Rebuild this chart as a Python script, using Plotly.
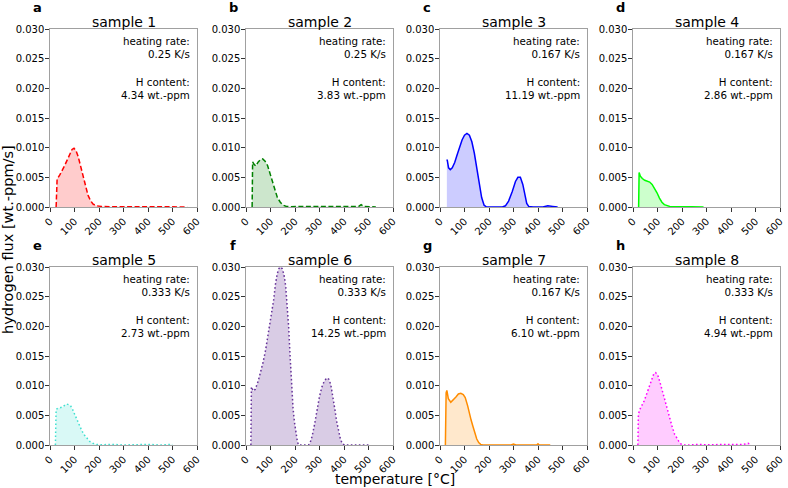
import plotly.graph_objects as go

W, H = 788, 488

# ---------------- data ----------------
titles = ["sample 1", "sample 2", "sample 3", "sample 4",
          "sample 5", "sample 6", "sample 7", "sample 8"]
letters = ["a", "b", "c", "d", "e", "f", "g", "h"]
heating_rates = ["0.25 K/s", "0.25 K/s", "0.167 K/s", "0.167 K/s",
                 "0.333 K/s", "0.333 K/s", "0.167 K/s", "0.333 K/s"]
h_contents = ["4.34 wt.-ppm", "3.83 wt.-ppm", "11.19 wt.-ppm", "2.86 wt.-ppm",
              "2.73 wt.-ppm", "14.25 wt.-ppm", "6.10 wt.-ppm", "4.94 wt.-ppm"]

T1 = [25, 29, 40, 50, 60, 70, 80, 90, 98, 106, 115, 125, 135, 145, 155, 165, 175, 190, 210, 250, 300, 350, 400, 450, 500, 560]
F1 = [0, 0.0047, 0.0054, 0.0061, 0.0070, 0.0079, 0.0089, 0.0097, 0.0099, 0.0095, 0.0085, 0.0068, 0.0050, 0.0033, 0.0020, 0.0011, 0.0005, 0.0002, 0.0001, 0.00005, 0.0001, 0.00004, 0.00006, 0.00003, 0.00008, 0.0]

T2 = [25, 27, 33, 40, 50, 60, 68, 78, 88, 98, 108, 118, 128, 140, 152, 165, 180, 220, 300, 400, 460, 470, 480, 530]
F2 = [0, 0.0076, 0.0072, 0.0069, 0.0076, 0.0080, 0.0081, 0.0077, 0.0070, 0.0057, 0.0042, 0.0028, 0.0016, 0.0008, 0.0003, 0.0001, 0.00005, 0.0001, 0.00005, 0.0001, 0.0001, 0.0004, 0.0001, 0.0]

T3 = [28, 30, 35, 42, 50, 60, 70, 80, 90, 100, 110, 120, 130, 140, 150, 160, 170, 180, 190, 220, 255, 267, 280, 295, 308, 318, 328, 338, 347, 354, 362, 380, 420, 440, 460, 480]
F3 = [0.0080, 0.0078, 0.0066, 0.0063, 0.0066, 0.0075, 0.0088, 0.0101, 0.0113, 0.0121, 0.0124, 0.0121, 0.0110, 0.0091, 0.0065, 0.0038, 0.0016, 0.0003, 0.0, 0.0, 0.0, 0.0002, 0.0010, 0.0026, 0.0043, 0.0050, 0.0050, 0.0038, 0.0018, 0.0006, 0.0001, 0.0, 0.0, 0.0002, 0.0001, 0.0]

T4 = [23, 25, 30, 38, 48, 58, 68, 78, 88, 98, 108, 118, 128, 138, 150, 170, 200, 240, 288]
F4 = [0, 0.0058, 0.0052, 0.0048, 0.0045, 0.0044, 0.0042, 0.0038, 0.0032, 0.0024, 0.0015, 0.0008, 0.0004, 0.0002, 0.0001, 0.00005, 0.0001, 0.00005, 0.0]

T5 = [22, 25, 32, 42, 52, 60, 68, 76, 84, 92, 100, 110, 120, 130, 140, 150, 162, 175, 190, 210, 260, 300, 350, 400, 450, 500]
F5 = [0, 0.0060, 0.0062, 0.0063, 0.0064, 0.0067, 0.0069, 0.0068, 0.0066, 0.0060, 0.0052, 0.0042, 0.0032, 0.0024, 0.0017, 0.0011, 0.0006, 0.0003, 0.0001, 0.00005, 0.0001, 0.0, 0.00005, 0.0001, 0.0, 0.0001]

T6 = [20, 22, 30, 38, 50, 60, 70, 80, 90, 97, 105, 113, 120, 127, 134, 140, 148, 155, 162, 168, 174, 180, 186, 192, 198, 204, 210, 215,
      255, 262, 270, 280, 290, 300, 310, 320, 330, 338, 346, 354, 362, 370, 378, 386, 394, 402, 460, 500]
F6 = [0, 0.0098, 0.0091, 0.0094, 0.0108, 0.0122, 0.0140, 0.0160, 0.0185, 0.0200, 0.0218, 0.0245, 0.0270, 0.0288, 0.0297, 0.0300, 0.0297, 0.0287, 0.0268, 0.0240, 0.0200, 0.0150, 0.0098, 0.0062, 0.0038, 0.0018, 0.0005, 0.0,
      0.0, 0.0004, 0.0015, 0.0035, 0.0060, 0.0082, 0.0098, 0.0108, 0.0113, 0.0111, 0.0102, 0.0085, 0.0062, 0.0040, 0.0022, 0.0009, 0.0002, 0.0, 0.0, 0.0]

T7 = [22, 23, 25, 28, 34, 44, 55, 65, 75, 85, 95, 103, 113, 120, 127, 134, 142, 150, 158, 166, 175, 200, 250, 290, 300, 310, 350, 395, 400, 405, 450]
F7 = [0, 0.0072, 0.0088, 0.0092, 0.0078, 0.0072, 0.0076, 0.0081, 0.0086, 0.0087, 0.0085, 0.0080, 0.0066, 0.0052, 0.0042, 0.0032, 0.0020, 0.0010, 0.0004, 0.0001, 0.0, 0.0, 0.00005, 0.0, 0.00015, 0.0, 0.0, 0.0, 0.0002, 0.0, 0.0]

T8 = [20, 22, 28, 36, 45, 55, 65, 75, 85, 92, 100, 110, 120, 131, 140, 150, 159, 170, 180, 186, 195, 205, 230, 260, 300, 350, 400, 450, 470, 480]
F8 = [0, 0.0052, 0.0060, 0.0066, 0.0074, 0.0085, 0.0098, 0.0110, 0.0120, 0.0122, 0.0119, 0.0106, 0.0090, 0.0072, 0.0058, 0.0044, 0.0032, 0.0018, 0.0010, 0.0007, 0.0002, 0.0, 0.0, 0.0001, 0.00005, 0.0001, 0.00005, 0.0001, 0.0003, 0.0]

temps = [T1, T2, T3, T4, T5, T6, T7, T8]
fluxes = [F1, F2, F3, F4, F5, F6, F7, F8]

x_ticks = [0, 100, 200, 300, 400, 500, 600]
y_ticks = [0.0, 0.005, 0.010, 0.015, 0.020, 0.025, 0.030]

# ---------------- styles ----------------
line_colors = ["red", "green", "blue", "#00ff00", "#40e0d0", "rebeccapurple", "darkorange", "magenta"]
fill_colors = ["rgba(255,0,0,0.2)", "rgba(0,128,0,0.2)", "rgba(0,0,255,0.2)", "rgba(0,255,0,0.2)",
               "rgba(64,224,208,0.2)", "rgba(102,51,153,0.25)", "rgba(255,140,0,0.2)", "rgba(255,0,255,0.2)"]
DASH = "5px,2.5px"
DOT = "1.6px,2.4px"
dashes = [DASH, DASH, "solid", "solid", DOT, DOT, "solid", DOT]

FONT = "DejaVu Sans"
lefts = [50, 246, 440, 633]
width_px = 147
tops = [29, 267]
height_px = 178

fig = go.Figure()
layout = dict(
    width=W, height=H, margin=dict(l=0, r=0, t=0, b=0, autoexpand=False),
    paper_bgcolor="white", plot_bgcolor="white", showlegend=False,
    font=dict(family=FONT, color="black"),
)
annotations = []

for i in range(8):
    r, c = divmod(i, 4)
    x0, x1 = lefts[c], lefts[c] + width_px
    yt, yb = tops[r], tops[r] + height_px
    xd = [x0 / W, x1 / W]
    yd = [1 - yb / H, 1 - yt / H]
    n = "" if i == 0 else str(i + 1)
    xa, ya = "x" + n, "y" + n
    fig.add_trace(go.Scatter(
        x=temps[i], y=fluxes[i], mode="lines", xaxis=xa, yaxis=ya,
        line=dict(color=line_colors[i], width=1.5, dash=dashes[i]),
        fill="tozeroy", fillcolor=fill_colors[i], hoverinfo="skip"))
    axis_common = dict(showline=True, linecolor="#a0a0a0", linewidth=1.3, mirror=True,
                       showgrid=False, zeroline=False, ticks="outside", ticklen=3.5,
                       automargin=False,
                       tickcolor="#333333", tickfont=dict(size=10, family=FONT, color="black"))
    layout["xaxis" + n] = dict(domain=xd, anchor=ya, range=[0, 600], tickvals=x_ticks,
                               ticktext=[str(v) for v in x_ticks], tickangle=-45, **axis_common)
    layout["yaxis" + n] = dict(domain=yd, anchor=xa, range=[0, 0.030], tickvals=y_ticks,
                               ticktext=["%.3f" % v for v in y_ticks], ticklabelstandoff=-1,
                               **axis_common)
    # title
    annotations.append(dict(x=(x0 + x1) / 2 / W, y=1 - (yt - 7) / H, xref="paper", yref="paper",
                            text=titles[i], showarrow=False, xanchor="center", yanchor="middle",
                            font=dict(size=14, family=FONT)))
    # panel letter
    annotations.append(dict(x=(x0 - 13) / W, y=1 - (yt - 22) / H, xref="paper", yref="paper",
                            text="<b>" + letters[i] + "</b>", showarrow=False, xanchor="center",
                            yanchor="middle", font=dict(size=13, family=FONT)))
    # info text
    annotations.append(dict(x=(x1 - 5) / W, y=1 - (yt + 4) / H, xref="paper", yref="paper",
                            text="heating rate:<br>" + heating_rates[i], showarrow=False,
                            xanchor="right", yanchor="top", align="right",
                            font=dict(size=10.3, family=FONT)))
    annotations.append(dict(x=(x1 - 5) / W, y=1 - (yt + 45) / H, xref="paper", yref="paper",
                            text="H content:<br>" + h_contents[i], showarrow=False,
                            xanchor="right", yanchor="top", align="right",
                            font=dict(size=10.3, family=FONT)))

annotations.append(dict(x=395 / W, y=1 - 479 / H, xref="paper", yref="paper",
                        text="temperature [°C]", showarrow=False, xanchor="center", yanchor="middle",
                        font=dict(size=14, family=FONT)))
annotations.append(dict(x=8 / W, y=1 - 240 / H, xref="paper", yref="paper",
                        text="hydrogen flux [wt.-ppm/s]", showarrow=False, textangle=-90,
                        xanchor="center", yanchor="middle", font=dict(size=14.5, family=FONT)))
layout["annotations"] = annotations
fig.update_layout(**layout)
fig.write_html("out.html")
